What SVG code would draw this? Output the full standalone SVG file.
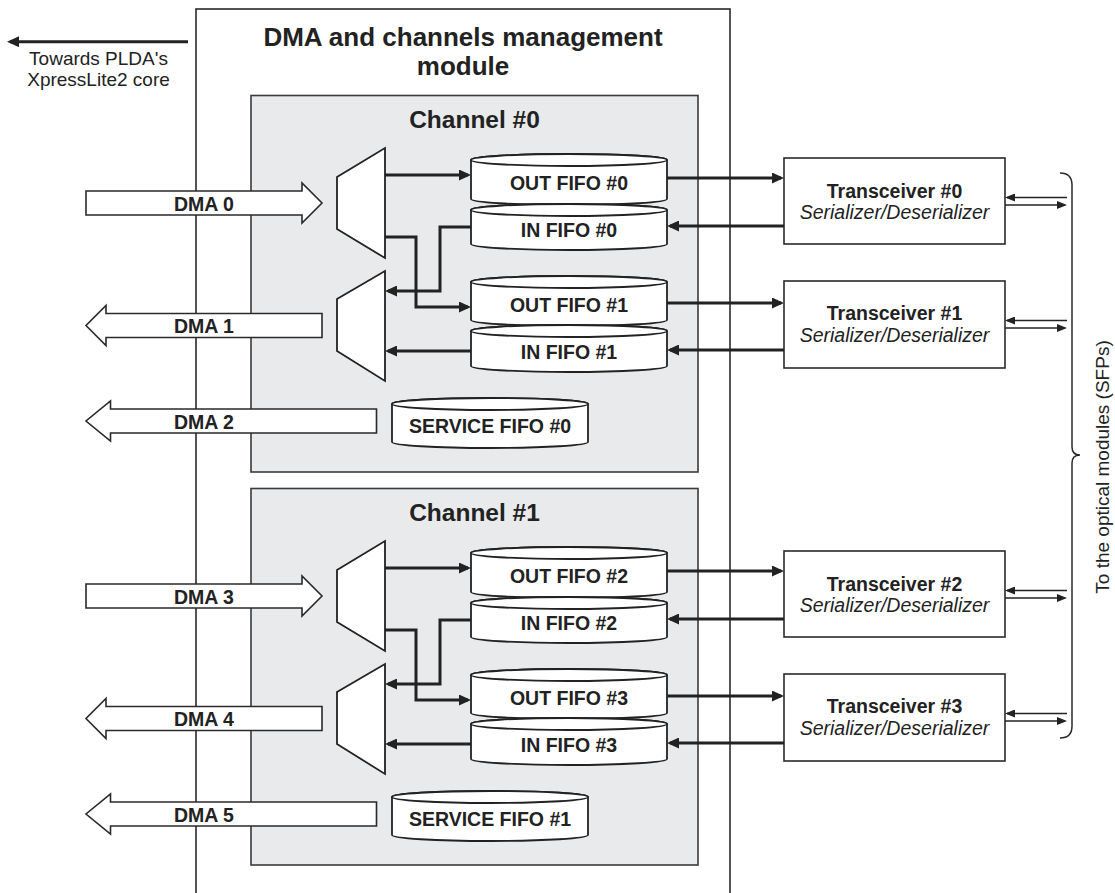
<svg xmlns="http://www.w3.org/2000/svg" width="1115" height="893" viewBox="0 0 1115 893">
<defs>
<marker id="ah" markerUnits="userSpaceOnUse" markerWidth="12" markerHeight="11" refX="9" refY="5.5" orient="auto">
<path d="M0,0 L12,5.5 L0,11 Z" fill="#222"/>
</marker>
<marker id="ahs" markerUnits="userSpaceOnUse" markerWidth="10" markerHeight="8" refX="8" refY="4" orient="auto">
<path d="M0,0 L10,4 L0,8 Z" fill="#222"/>
</marker>
</defs>
<style>
.ln{fill:none;stroke:#2a2a2a;stroke-width:1.6}
.box{fill:#fff;stroke:#2a2a2a;stroke-width:1.6}
.chan{fill:#e9eaec;stroke:#3a3a3a;stroke-width:1.6}
.cyl{fill:#fff;stroke:#222;stroke-width:1.8}
.mux{fill:#fff;stroke:#222;stroke-width:1.8}
.blk{fill:#fff;stroke:#2a2a2a;stroke-width:1.6}
.th{fill:none;stroke:#222;stroke-width:3;marker-end:url(#ah)}
.tn{fill:none;stroke:#222;stroke-width:1.5;marker-end:url(#ahs)}
.b{font-family:"Liberation Sans",Arial,sans-serif;font-weight:bold;font-size:19.5px;fill:#222;text-anchor:middle}
.r{font-family:"Liberation Sans",Arial,sans-serif;font-size:19px;fill:#222;text-anchor:middle}
.i{font-family:"Liberation Sans",Arial,sans-serif;font-style:italic;font-size:19.5px;fill:#222;text-anchor:middle}
</style>
<rect width="1115" height="893" fill="#fff"/>

<g id="module">
<rect x="196" y="9" width="534" height="900" class="ln"/>
<text class="b" style="font-size:26px" x="463" y="45.5">DMA and channels management</text>
<text class="b" style="font-size:26px" x="463" y="74.8">module</text>
</g>

<g id="towards-label">
<text class="r" x="98.5" y="64.5">Towards PLDA's<tspan x="98.5" dy="21.3">XpressLite2 core</tspan></text>
</g>

<g id="channel0">
<rect x="251" y="95.5" width="447" height="376.5" class="chan"/>
<text class="b" style="font-size:24.5px" x="474.5" y="127.5">Channel #0</text>
</g>
<g id="channel1">
<rect x="251" y="488.5" width="447" height="376.5" class="chan"/>
<text class="b" style="font-size:24.5px" x="474.5" y="520.5">Channel #1</text>
</g>

<g id="mux0"><polygon class="mux" points="337,177 385,148 385,258 337,229"/></g>
<g id="mux1"><polygon class="mux" points="337,299 385,271 385,381 337,351"/></g>
<g id="mux2"><polygon class="mux" points="337,570 385,541 385,651 337,622"/></g>
<g id="mux3"><polygon class="mux" points="337,692 385,664 385,774 337,744"/></g>

<g id="out-fifo-0">
<path class="cyl" d="M471,160 L471,199 A98,6 0 0 0 667,199 L667,160 A98,6 0 0 0 471,160 Z"/>
<ellipse class="cyl" cx="569" cy="160" rx="98" ry="6"/>
<text class="b" x="569" y="190">OUT FIFO #0</text>
</g>
<g id="in-fifo-0">
<path class="cyl" d="M471,210 L471,244 A98,6 0 0 0 667,244 L667,210 A98,6 0 0 0 471,210 Z"/>
<ellipse class="cyl" cx="569" cy="210" rx="98" ry="6"/>
<text class="b" x="569" y="237">IN FIFO #0</text>
</g>
<g id="out-fifo-1">
<path class="cyl" d="M471,282 L471,320 A98,6 0 0 0 667,320 L667,282 A98,6 0 0 0 471,282 Z"/>
<ellipse class="cyl" cx="569" cy="282" rx="98" ry="6"/>
<text class="b" x="569" y="312">OUT FIFO #1</text>
</g>
<g id="in-fifo-1">
<path class="cyl" d="M471,331 L471,366 A98,6 0 0 0 667,366 L667,331 A98,6 0 0 0 471,331 Z"/>
<ellipse class="cyl" cx="569" cy="331" rx="98" ry="6"/>
<text class="b" x="569" y="359">IN FIFO #1</text>
</g>
<g id="service-fifo-0">
<path class="cyl" d="M392,404 L392,442 A98,6 0 0 0 588,442 L588,404 A98,6 0 0 0 392,404 Z"/>
<ellipse class="cyl" cx="490" cy="404" rx="98" ry="6"/>
<text class="b" x="490" y="433">SERVICE FIFO #0</text>
</g>

<g id="out-fifo-2">
<path class="cyl" d="M471,553 L471,592 A98,6 0 0 0 667,592 L667,553 A98,6 0 0 0 471,553 Z"/>
<ellipse class="cyl" cx="569" cy="553" rx="98" ry="6"/>
<text class="b" x="569" y="583">OUT FIFO #2</text>
</g>
<g id="in-fifo-2">
<path class="cyl" d="M471,603 L471,637 A98,6 0 0 0 667,637 L667,603 A98,6 0 0 0 471,603 Z"/>
<ellipse class="cyl" cx="569" cy="603" rx="98" ry="6"/>
<text class="b" x="569" y="630">IN FIFO #2</text>
</g>
<g id="out-fifo-3">
<path class="cyl" d="M471,675 L471,713 A98,6 0 0 0 667,713 L667,675 A98,6 0 0 0 471,675 Z"/>
<ellipse class="cyl" cx="569" cy="675" rx="98" ry="6"/>
<text class="b" x="569" y="705">OUT FIFO #3</text>
</g>
<g id="in-fifo-3">
<path class="cyl" d="M471,724 L471,759 A98,6 0 0 0 667,759 L667,724 A98,6 0 0 0 471,724 Z"/>
<ellipse class="cyl" cx="569" cy="724" rx="98" ry="6"/>
<text class="b" x="569" y="752">IN FIFO #3</text>
</g>
<g id="service-fifo-1">
<path class="cyl" d="M392,797 L392,835 A98,6 0 0 0 588,835 L588,797 A98,6 0 0 0 392,797 Z"/>
<ellipse class="cyl" cx="490" cy="797" rx="98" ry="6"/>
<text class="b" x="490" y="826">SERVICE FIFO #1</text>
</g>

<g id="transceiver-0">
<rect class="box" x="784" y="158" width="221" height="86"/>
<text class="b" x="894.5" y="197.5">Transceiver #0</text>
<text class="i" x="894.5" y="218.5">Serializer/Deserializer</text>
</g>
<g id="transceiver-1">
<rect class="box" x="784" y="281" width="221" height="87"/>
<text class="b" x="894.5" y="320">Transceiver #1</text>
<text class="i" x="894.5" y="341.5">Serializer/Deserializer</text>
</g>
<g id="transceiver-2">
<rect class="box" x="784" y="551" width="221" height="86"/>
<text class="b" x="894.5" y="590.5">Transceiver #2</text>
<text class="i" x="894.5" y="611.5">Serializer/Deserializer</text>
</g>
<g id="transceiver-3">
<rect class="box" x="784" y="674" width="221" height="87"/>
<text class="b" x="894.5" y="713">Transceiver #3</text>
<text class="i" x="894.5" y="734.5">Serializer/Deserializer</text>
</g>

<g id="connectors">
<path class="th" d="M188,41.7 L10,41.7"/>
<path class="th" d="M385,175 L468,175"/>
<path class="th" d="M471,227 L440,227 L440,291 L388,291"/>
<path class="th" d="M385,237 L416,237 L416,307 L468,307"/>
<path class="th" d="M471,351 L388,351"/>
<path class="th" d="M667,178 L781,178"/>
<path class="th" d="M784,226 L670,226"/>
<path class="th" d="M667,303 L781,303"/>
<path class="th" d="M784,350 L670,350"/>
<path class="th" d="M385,568 L468,568"/>
<path class="th" d="M471,620 L440,620 L440,684 L388,684"/>
<path class="th" d="M385,630 L416,630 L416,700 L468,700"/>
<path class="th" d="M471,744 L388,744"/>
<path class="th" d="M667,571 L781,571"/>
<path class="th" d="M784,619 L670,619"/>
<path class="th" d="M667,696 L781,696"/>
<path class="th" d="M784,743 L670,743"/>
<path class="tn" d="M1067,197.5 L1007,197.5"/>
<path class="tn" d="M1005,205 L1065,205"/>
<path class="tn" d="M1067,320.5 L1007,320.5"/>
<path class="tn" d="M1005,328 L1065,328"/>
<path class="tn" d="M1067,590.5 L1007,590.5"/>
<path class="tn" d="M1005,598 L1065,598"/>
<path class="tn" d="M1067,713.5 L1007,713.5"/>
<path class="tn" d="M1005,721 L1065,721"/>
</g>

<g id="dma0"><polygon class="blk" points="86,191 302,191 302,183 322,203 302,223 302,215 86,215"/><text class="b" x="204" y="210.5">DMA 0</text></g>
<g id="dma1"><polygon class="blk" points="322,313.5 106,313.5 106,305.5 86,325.5 106,345.5 106,337.5 322,337.5"/><text class="b" x="204" y="333">DMA 1</text></g>
<g id="dma2"><polygon class="blk" points="376.5,409 110.5,409 110.5,401 86,421 110.5,441 110.5,433 376.5,433"/><text class="b" x="204" y="428.5">DMA 2</text></g>
<g id="dma3"><polygon class="blk" points="86,584 302,584 302,576 322,596 302,616 302,608 86,608"/><text class="b" x="204" y="603.5">DMA 3</text></g>
<g id="dma4"><polygon class="blk" points="322,706.5 106,706.5 106,698.5 86,718.5 106,738.5 106,730.5 322,730.5"/><text class="b" x="204" y="726">DMA 4</text></g>
<g id="dma5"><polygon class="blk" points="376.5,802 110.5,802 110.5,794 86,814 110.5,834 110.5,826 376.5,826"/><text class="b" x="204" y="821.5">DMA 5</text></g>

<g id="sfp-brace">
<path class="ln" style="stroke-width:1.5" d="M1060,173 Q1072,173 1072,185 L1072,447 Q1072,455 1080,455 Q1072,455 1072,463 L1072,726 Q1072,738 1060,738"/>
<text class="r" transform="translate(1109,467) rotate(-90)">To the optical modules (SFPs)</text>
</g>
</svg>
